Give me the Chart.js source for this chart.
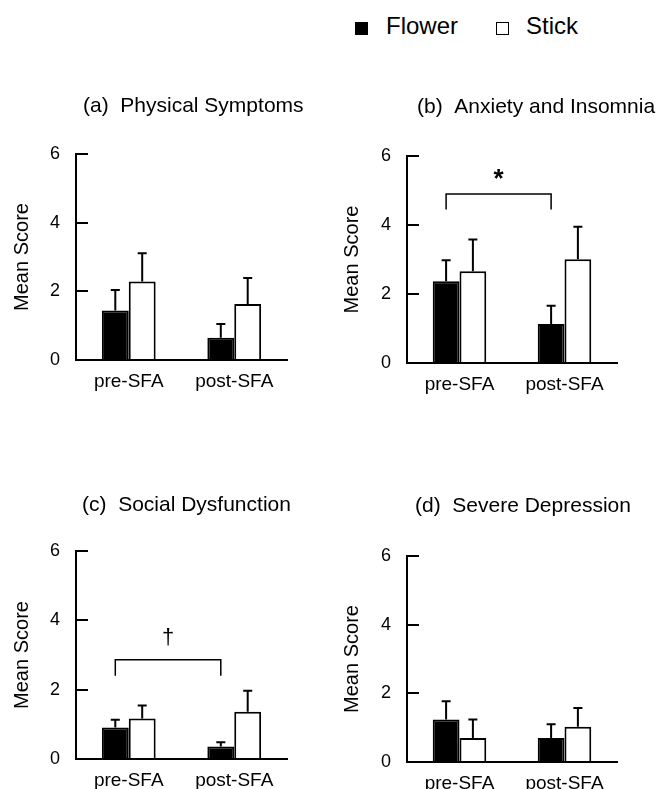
<!DOCTYPE html>
<html>
<head>
<meta charset="utf-8">
<script src="https://cdn.jsdelivr.net/npm/chart.js@4.4.1/dist/chart.umd.min.js"></script>
<style>
  body { margin: 0; background: #fff; width: 661px; height: 789px; overflow: hidden; position: relative;
         font-family: Arial, "Liberation Sans", Helvetica, sans-serif; }
  .panel { position: absolute; }
  .key { position: absolute; width: 13px; height: 13px; box-sizing: border-box; border: 1.5px solid #000; }
  .lbl { position: absolute; font-size: 24px; line-height: 24px; color: #000; white-space: nowrap; }
</style>
</head>
<body>
<div id="legend"></div>
<div class="panel" style="left:0;top:60px;width:330px;height:340px"><canvas id="chartA"></canvas></div>
<div class="panel" style="left:330px;top:60px;width:331px;height:340px"><canvas id="chartB"></canvas></div>
<div class="panel" style="left:0;top:460px;width:330px;height:329px"><canvas id="chartC"></canvas></div>
<div class="panel" style="left:330px;top:460px;width:331px;height:329px"><canvas id="chartD"></canvas></div>
<script>
const groups = ['pre-SFA', 'post-SFA'];
const seriesNames = ['Flower', 'Stick'];
const yTicks = [0, 2, 4, 6];

// (a) Physical Symptoms
const physFlower = [1.44, 0.65];
const physFlowerErr = [0.60, 0.40];
const physStick = [2.29, 1.63];
const physStickErr = [0.82, 0.76];

// (b) Anxiety and Insomnia
const anxFlower = [2.37, 1.13];
const anxFlowerErr = [0.61, 0.53];
const anxStick = [2.66, 3.01];
const anxStickErr = [0.92, 0.94];

// (c) Social Dysfunction
const socFlower = [0.91, 0.36];
const socFlowerErr = [0.22, 0.12];
const socStick = [1.17, 1.36];
const socStickErr = [0.37, 0.61];

// (d) Severe Depression
const depFlower = [1.24, 0.70];
const depFlowerErr = [0.53, 0.40];
const depStick = [0.70, 1.03];
const depStickErr = [0.54, 0.54];

const fontFamily = 'Arial, "Liberation Sans", Helvetica, sans-serif';
Chart.defaults.font.family = fontFamily;
Chart.defaults.color = '#000';

// legend (html)
const legend = document.getElementById('legend');
legend.innerHTML =
  '<span class="key" style="left:355px;top:22px;background:#000"></span>' +
  '<span class="lbl" style="left:386px;top:14px">' + seriesNames[0] + '</span>' +
  '<span class="key" style="left:496px;top:22px;background:#fff"></span>' +
  '<span class="lbl" style="left:526px;top:14px">' + seriesNames[1] + '</span>';

const errorBars = {
  id: 'errorBars',
  afterDatasetsDraw(chart) {
    const ctx = chart.ctx;
    const y = chart.scales.y;
    ctx.save();
    ctx.strokeStyle = '#000';
    ctx.lineWidth = 2;
    chart.data.datasets.forEach((ds, i) => {
      chart.getDatasetMeta(i).data.forEach((bar, j) => {
        const top = y.getPixelForValue(ds.data[j] + ds.errors[j]);
        ctx.beginPath();
        ctx.moveTo(bar.x, bar.y);
        ctx.lineTo(bar.x, top);
        ctx.moveTo(bar.x - 4.5, top);
        ctx.lineTo(bar.x + 4.5, top);
        ctx.stroke();
      });
    });
    ctx.restore();
  }
};

const bracket = {
  id: 'bracket',
  afterDatasetsDraw(chart, args, opts) {
    if (!opts || opts.y == null) return;
    const ctx = chart.ctx;
    const y = chart.scales.y;
    const bars = chart.getDatasetMeta(0).data;
    const x1 = bars[0].x, x2 = bars[1].x;
    const yl = y.getPixelForValue(opts.y), yb = y.getPixelForValue(opts.leg);
    ctx.save();
    ctx.strokeStyle = '#000';
    ctx.lineWidth = 1.5;
    ctx.beginPath();
    ctx.moveTo(x1, yb); ctx.lineTo(x1, yl); ctx.lineTo(x2, yl); ctx.lineTo(x2, yb);
    ctx.stroke();
    ctx.fillStyle = '#000';
    ctx.font = opts.font;
    ctx.textAlign = 'center';
    ctx.textBaseline = 'middle';
    ctx.fillText(opts.mark, (x1 + x2) / 2, y.getPixelForValue(opts.markY));
    ctx.restore();
  }
};

// panel heading, left aligned a little right of the y axis
const panelTitle = {
  id: 'panelTitle',
  afterDraw(chart, args, opts) {
    const ctx = chart.ctx;
    ctx.save();
    ctx.fillStyle = '#000';
    ctx.font = '21px ' + fontFamily;
    ctx.textAlign = 'left';
    ctx.textBaseline = 'middle';
    ctx.fillText(opts.text, opts.x, opts.y);
    ctx.restore();
  }
};

function makeConfig(title, flower, flowerErr, stick, stickErr, lay, sig) {
  return {
    type: 'bar',
    data: {
      labels: groups,
      datasets: [{
        label: seriesNames[0],
        data: flower,
        errors: flowerErr,
        backgroundColor: '#000',
        borderColor: '#000',
        borderWidth: 2,
        categoryPercentage: 0.51,
        barPercentage: 1.0
      }, {
        label: seriesNames[1],
        data: stick,
        errors: stickErr,
        backgroundColor: '#fff',
        borderColor: '#000',
        borderWidth: 2,
        categoryPercentage: 0.51,
        barPercentage: 1.0
      }]
    },
    options: {
      responsive: true,
      maintainAspectRatio: false,
      animation: false,
      layout: { padding: { top: lay.top, right: lay.right, left: 0, bottom: 0 } },
      plugins: {
        legend: { display: false },
        tooltip: { enabled: false },
        title: { display: false },
        panelTitle: { text: title, x: lay.tx, y: lay.ty },
        bracket: sig || {}
      },
      scales: {
        x: {
          grid: { display: false, drawTicks: false },
          border: { display: true, color: '#000', width: 2 },
          ticks: { color: '#000', font: { size: 19 }, padding: 10 },
          afterFit: s => { s.height = lay.xH; }
        },
        y: {
          min: 0,
          max: 6,
          afterBuildTicks: s => { s.ticks = yTicks.map(v => ({ value: v })); },
          afterFit: s => { s.width = lay.yW; s.paddingTop = 0; s.paddingBottom = 0; },
          border: { display: true, color: '#000', width: 2 },
          grid: { drawOnChartArea: false, drawTicks: true, tickLength: -12, color: '#000', lineWidth: 2 },
          ticks: { color: '#000', font: { size: 18 }, padding: 28 },
          title: { display: true, text: 'Mean Score', color: '#000', font: { size: 20 }, padding: { top: 10, bottom: 0 } }
        }
      }
    },
    plugins: [errorBars, bracket, panelTitle]
  };
}

const chartA = new Chart(document.getElementById('chartA'),
  makeConfig('(a)  Physical Symptoms', physFlower, physFlowerErr, physStick, physStickErr,
    { top: 94, right: 43, xH: 40, yW: 76, tx: 83, ty: 46 }));

const chartB = new Chart(document.getElementById('chartB'),
  makeConfig('(b)  Anxiety and Insomnia', anxFlower, anxFlowerErr, anxStick, anxStickErr,
    { top: 96, right: 44, xH: 37, yW: 77, tx: 87, ty: 47 },
    { y: 4.9, leg: 4.45, mark: '*', markY: 5.3, font: 'bold 26px ' + fontFamily }));

const chartC = new Chart(document.getElementById('chartC'),
  makeConfig('(c)  Social Dysfunction', socFlower, socFlowerErr, socStick, socStickErr,
    { top: 91, right: 43, xH: 30, yW: 76, tx: 82, ty: 45 },
    { y: 2.86, leg: 2.4, mark: '\u2020', markY: 3.5, font: '22px ' + fontFamily }));

const chartD = new Chart(document.getElementById('chartD'),
  makeConfig('(d)  Severe Depression', depFlower, depFlowerErr, depStick, depStickErr,
    { top: 96, right: 44, xH: 27, yW: 77, tx: 85, ty: 46 }));
</script>
</body>
</html>
